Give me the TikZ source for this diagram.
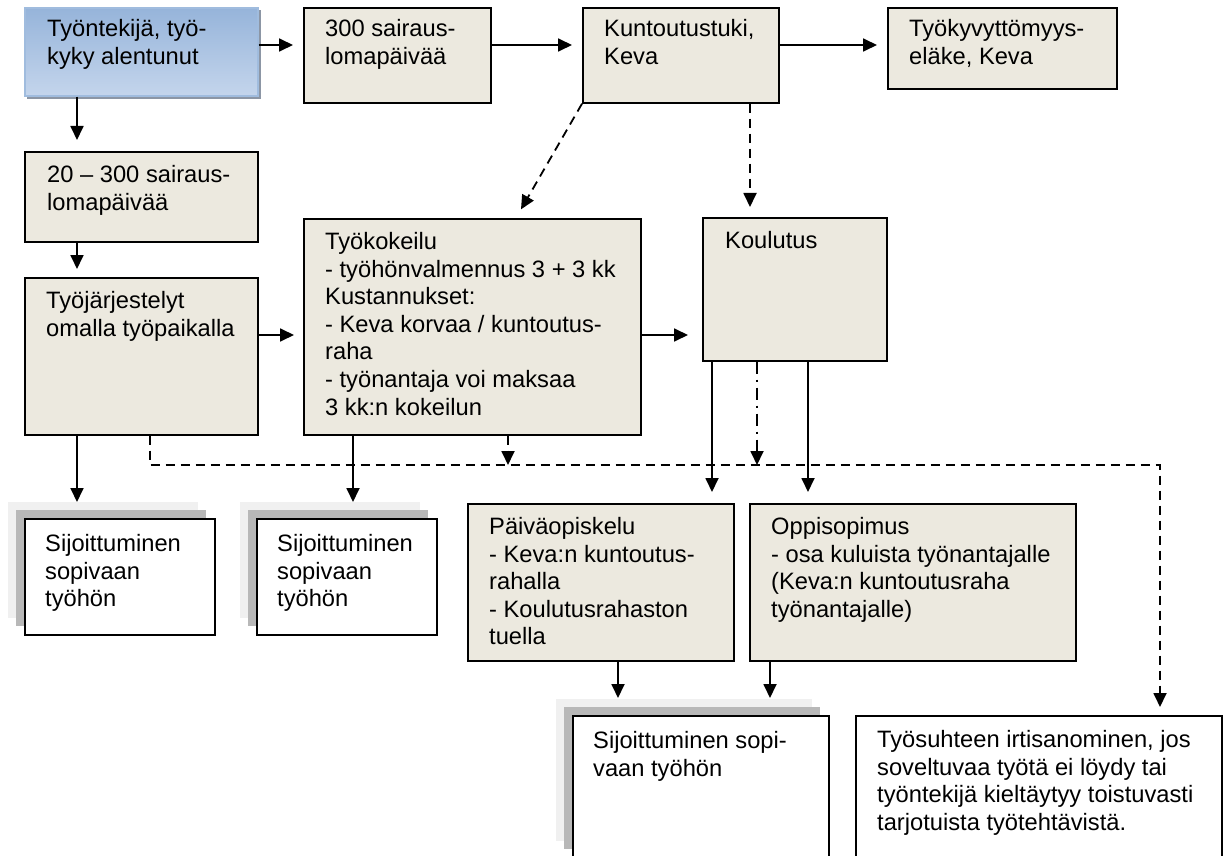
\documentclass[tikz,border=0pt]{standalone}
\usepackage{fontspec}
\setmainfont{Liberation Sans}
\usetikzlibrary{arrows.meta,calc}
\definecolor{boxfill}{RGB}{236,233,223}
\definecolor{blueedge}{RGB}{160,188,222}
\definecolor{bluetop}{RGB}{150,180,218}
\definecolor{bluemid}{RGB}{222,231,243}
\definecolor{bluebot}{RGB}{196,213,236}
\definecolor{blueshadow}{RGB}{140,150,165}
\definecolor{shlight}{RGB}{240,240,240}
\definecolor{shmid}{RGB}{184,184,184}
\begin{document}
\begin{tikzpicture}[x=1pt,y=-1pt,
  box/.style={draw=black, line width=1.7pt, fill=boxfill, rectangle, inner sep=0pt, anchor=north west},
  wbox/.style={box, fill=white},
  bluebox/.style={box, draw=blueedge, top color=bluetop, middle color=bluemid, bottom color=bluebot},
  txt/.style={inner sep=0pt, anchor=north west, align=left, font=\fontsize{23.7}{27.6}\selectfont},
  arr/.style={line width=1.8pt, -{Triangle[length=14pt,width=13pt]}, shorten >=10pt},
  dsh/.style={dash pattern=on 9pt off 6pt},
  dshdot/.style={dash pattern=on 12pt off 6pt on 2pt off 6pt},
]
\useasboundingbox (0,0) rectangle (1227,856);

% shadows
\fill[blueshadow] (27,10) rectangle (261,99);
\fill[shlight] (8,502) rectangle (198,618);
\fill[shmid] (16,510) rectangle (206,626);
\fill[shlight] (240,502) rectangle (420,618);
\fill[shmid] (248,510) rectangle (428,626);
\fill[shlight] (556,699) rectangle (812,841);
\fill[shmid] (564,707) rectangle (820,849);

% boxes
\node[bluebox, minimum width=233pt, minimum height=88pt] (A) at (24,7) {};
\node[box, minimum width=187pt, minimum height=95pt] (B) at (303,7) {};
\node[box, minimum width=196pt, minimum height=95pt] (C) at (582,7) {};
\node[box, minimum width=229pt, minimum height=81pt] (D) at (887,7) {};
\node[box, minimum width=233pt, minimum height=90pt] (E) at (24,151) {};
\node[box, minimum width=233pt, minimum height=157pt] (F) at (24,277) {};
\node[box, minimum width=337pt, minimum height=216pt] (G) at (303,218) {};
\node[box, minimum width=184pt, minimum height=143pt] (H) at (702,217) {};
\node[wbox, minimum width=190pt, minimum height=116pt] (S1) at (24,518) {};
\node[wbox, minimum width=180pt, minimum height=116pt] (S2) at (256,518) {};
\node[box, minimum width=266pt, minimum height=157pt] (I) at (467,503) {};
\node[box, minimum width=326pt, minimum height=157pt] (J) at (749,503) {};
\node[wbox, minimum width=256pt, minimum height=143pt] (S3) at (572,715) {};
\node[wbox, minimum width=366pt, minimum height=143pt] (K) at (855,715) {};

% texts
\node[txt] (At) at ($(A.north west)+(23,10)$) {\strut Työntekijä, työ-\\kyky alentunut};
\node[txt] (Bt) at ($(B.north west)+(22,10)$) {\strut 300 sairaus-\\lomapäivää};
\node[txt] (Ct) at ($(C.north west)+(22,10)$) {\strut Kuntoutustuki,\\Keva};
\node[txt] (Dt) at ($(D.north west)+(22,10)$) {\strut Työkyvyttömyys-\\eläke, Keva};
\node[txt] (Et) at ($(E.north west)+(23,12)$) {\strut 20 – 300 sairaus-\\lomapäivää};
\node[txt] (Ft) at ($(F.north west)+(22,12)$) {\strut Työjärjestelyt\\omalla työpaikalla};
\node[txt] (Gt) at ($(G.north west)+(22,12)$) {\strut Työkokeilu\\- työhönvalmennus 3 + 3 kk\\Kustannukset:\\- Keva korvaa / kuntoutus-\\raha\\- työnantaja voi maksaa\\3 kk:n kokeilun};
\node[txt] (Ht) at ($(H.north west)+(23,12)$) {\strut Koulutus};
\node[txt] (S1t) at ($(S1.north west)+(21,14)$) {\strut Sijoittuminen\\sopivaan\\työhön};
\node[txt] (S2t) at ($(S2.north west)+(21,14)$) {\strut Sijoittuminen\\sopivaan\\työhön};
\node[txt] (It) at ($(I.north west)+(22,12)$) {\strut Päiväopiskelu\\- Keva:n kuntoutus-\\rahalla\\- Koulutusrahaston\\tuella};
\node[txt] (Jt) at ($(J.north west)+(22,12)$) {\strut Oppisopimus\\- osa kuluista työnantajalle\\(Keva:n kuntoutusraha\\työnantajalle)};
\node[txt] (S3t) at ($(S3.north west)+(21,14)$) {\strut Sijoittuminen sopi-\\vaan työhön};
\node[txt] (Kt) at ($(K.north west)+(22,13)$) {\strut Työsuhteen irtisanominen, jos\\soveltuvaa työtä ei löydy tai\\työntekijä kieltäytyy toistuvasti\\tarjotuista työtehtävistä.};

% helper coordinates
\coordinate (r1) at (0,45);
\coordinate (r2) at (0,335);
\coordinate (xa) at (77,0);
\coordinate (xg) at (353,0);
\coordinate (xc) at (750,0);
\coordinate (xh1) at (712,0);
\coordinate (xh2) at (808,0);
\coordinate (xi) at (618,0);
\coordinate (xj) at (770,0);
\coordinate (d1) at (150,465);
\coordinate (d2) at (1160,465);
\coordinate (d3) at (508,465);
\coordinate (d4) at (757,465);
\coordinate (gtop) at (516,218);

% solid arrows
\draw[arr] (A.east |- r1) -- (B.west |- r1);
\draw[arr] (B.east |- r1) -- (C.west |- r1);
\draw[arr] (C.east |- r1) -- (D.west |- r1);
\draw[arr, shorten >=11pt] (A.south -| xa) -- (E.north -| xa);
\draw[arr, shorten >=8pt] (E.south -| xa) -- (F.north -| xa);
\draw[arr, shorten >=9pt] (F.east |- r2) -- (G.west |- r2);
\draw[arr, shorten >=14pt] (G.east |- r2) -- (H.west |- r2);
\draw[arr, shorten >=16pt] (F.south -| xa) -- (S1.north -| xa);
\draw[arr, shorten >=16pt] (G.south -| xg) -- (S2.north -| xg);
\draw[arr, shorten >=11pt] (H.south -| xh1) -- (I.north -| xh1);
\draw[arr, shorten >=11pt] (H.south -| xh2) -- (J.north -| xh2);
\draw[arr, shorten >=17pt] (I.south -| xi) -- (S3.north -| xi);
\draw[arr, shorten >=17pt] (J.south -| xj) -- (S3.north -| xj);

% dashed arrows
\draw[arr, dsh] (C.south west) -- (gtop);
\draw[arr, dsh] (C.south -| xc) -- (H.north -| xc);
\draw[arr, dsh, shorten >=8pt] (F.south -| d1) -- (d1) -- (d2) -- (K.north -| d2);
\draw[arr, dsh, shorten >=0pt] (G.south -| d3) -- (d3);
\draw[arr, dshdot, shorten >=0pt] (H.south -| d4) -- (d4);
\end{tikzpicture}
\end{document}
